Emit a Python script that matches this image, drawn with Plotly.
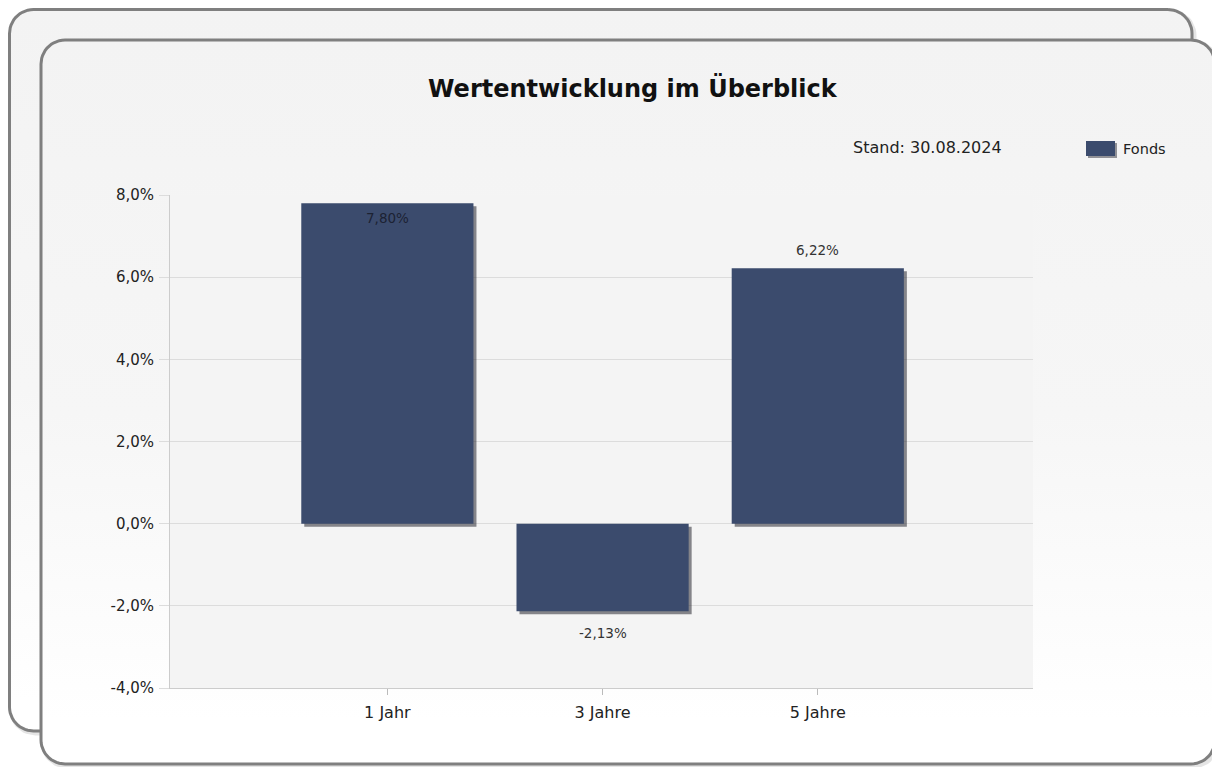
import numpy as np
import plotly.graph_objects as go

# ---------------- data ----------------
categories = ["1 Jahr", "3 Jahre", "5 Jahre"]
fonds_values = [7.80, -2.13, 6.22]
y_tick_values = [-4, -2, 0, 2, 4, 6, 8]
series_name = "Fonds"
title_text = "Wertentwicklung im Überblick"
stand_text = "Stand: 30.08.2024"

# ---------------- layout constants (screen pixels) ----------------
W, H = 1220, 767
OFF = 8  # page body margin offset
PLOT_L, PLOT_R, PLOT_T, PLOT_B = 170, 1033, 195, 688
Y_MIN, Y_MAX = -4, 8
X_MIN, X_MAX = -1.01, 3.0
BAR_COLOR = "#3b4b6d"
FONT = "DejaVu Sans"
BORDER = "#7f7f7f"


def de_num(v, dec):
    return f"{v:.{dec}f}".replace(".", ",")


def rounded_rect(x0, y0, x1, y1, r, n=14):
    pts = []
    corners = [(x1 - r, y0 + r, -90, 0), (x1 - r, y1 - r, 0, 90),
               (x0 + r, y1 - r, 90, 180), (x0 + r, y0 + r, 180, 270)]
    for cx, cy, a0, a1 in corners:
        for a in np.linspace(np.radians(a0), np.radians(a1), n):
            pts.append((cx + r * np.cos(a), cy + r * np.sin(a)))
    pts.append(pts[0])
    xs, ys = zip(*pts)
    return list(xs), list(ys)


fig = go.Figure()

# ---- background cards (pixel-space helper axes x / y) ----
bx, by = rounded_rect(9.5, 9.5, 1192, 731, 24)
fig.add_trace(go.Scatter(x=[v + 2 for v in bx], y=[v + 2 for v in by], mode="lines",
                         line=dict(color="rgba(0,0,0,0.10)", width=5),
                         hoverinfo="skip", showlegend=False, xaxis="x", yaxis="y"))
fig.add_trace(go.Scatter(x=bx, y=by, mode="lines", fill="toself",
                         fillgradient=dict(type="vertical", start=10, stop=700,
                                           colorscale=[[0, "#f3f3f3"], [0.55, "#f6f6f6"], [1, "#ffffff"]]),
                         line=dict(color=BORDER, width=3),
                         hoverinfo="skip", showlegend=False, xaxis="x", yaxis="y"))
fx, fy = rounded_rect(41, 40, 1215, 764, 24)
fig.add_trace(go.Scatter(x=[v + 2 for v in fx], y=[v + 2 for v in fy], mode="lines",
                         line=dict(color="rgba(0,0,0,0.10)", width=5),
                         hoverinfo="skip", showlegend=False, xaxis="x", yaxis="y"))
fig.add_trace(go.Scatter(x=fx, y=fy, mode="lines", fill="toself",
                         fillgradient=dict(type="vertical", start=40, stop=720,
                                           colorscale=[[0, "#f3f3f3"], [0.55, "#f6f6f6"], [1, "#ffffff"]]),
                         line=dict(color=BORDER, width=3),
                         hoverinfo="skip", showlegend=False, xaxis="x", yaxis="y"))
# plot area background
fig.add_trace(go.Scatter(x=[PLOT_L, PLOT_R, PLOT_R, PLOT_L, PLOT_L],
                         y=[PLOT_T, PLOT_T, PLOT_B, PLOT_B, PLOT_T],
                         mode="lines", fill="toself", fillcolor="#f4f4f4",
                         line=dict(width=0), hoverinfo="skip", showlegend=False,
                         xaxis="x", yaxis="y"))

# ---- bars (x2 / y2) ----
px_per_unit_y = (PLOT_B - PLOT_T) / (Y_MAX - Y_MIN)
px_per_unit_x = (PLOT_R - PLOT_L) / (X_MAX - X_MIN)
shadow_dy = 3 / px_per_unit_y
shadow_dx = 3 / px_per_unit_x

fig.add_trace(go.Bar(x=categories, y=fonds_values, base=-shadow_dy,
                     offset=-0.4 + shadow_dx, width=0.8,
                     marker=dict(color="rgba(40,40,50,0.55)", line=dict(width=0)),
                     hoverinfo="skip", showlegend=False, xaxis="x2", yaxis="y2"))
fig.add_trace(go.Bar(x=categories, y=fonds_values, name=series_name, width=0.8, offset=-0.4,
                     marker=dict(color=BAR_COLOR, line=dict(width=0)),
                     hovertemplate="%{x}: %{y:.2f}%<extra></extra>",
                     showlegend=False, xaxis="x2", yaxis="y2"))

# ---- value labels placed through the data axes ----
annotations = []
for cat, val in zip(categories, fonds_values):
    if val >= 0:
        inside = val + 1.0 > Y_MAX
        shift = -15 if inside else 18
    else:
        shift = -22
    annotations.append(dict(text=de_num(val, 2) + "%", x=cat, y=val, xref="x2", yref="y2",
                            yshift=shift, showarrow=False, xanchor="center", yanchor="middle",
                            font=dict(family=FONT, size=13.5,
                                      color="#1c2233" if (val >= 0 and val + 1.0 > Y_MAX) else "#333333")))

# ---- legend (manual) and texts ----
shapes = [
    dict(type="rect", xref="x", yref="y", x0=1088, x1=1117, y0=143, y1=158,
         fillcolor="rgba(45,45,55,0.5)", line=dict(width=0), layer="above"),
    dict(type="rect", xref="x", yref="y", x0=1086, x1=1115, y0=141, y1=156,
         fillcolor=BAR_COLOR, line=dict(width=0), layer="above"),
]
annotations += [
    dict(text=f"<b>{title_text}</b>", x=633, y=88, xref="x", yref="y", showarrow=False,
         xanchor="center", yanchor="middle", font=dict(family=FONT, size=24, color="#111111")),
    dict(text=stand_text, x=1004, y=147, xref="x", yref="y", showarrow=False,
         xanchor="right", yanchor="middle", font=dict(family=FONT, size=16, color="#222222")),
    dict(text=series_name, x=1121, y=149, xref="x", yref="y", showarrow=False,
         xanchor="left", yanchor="middle", font=dict(family=FONT, size=14.5, color="#222222")),
]

y_tick_text = [de_num(v, 1) + "%" for v in y_tick_values]

fig.update_layout(
    template="none",
    width=W, height=H, margin=dict(l=0, r=0, t=0, b=0, pad=0, autoexpand=False),
    paper_bgcolor="#ffffff", plot_bgcolor="rgba(0,0,0,0)",
    separators=",.", barmode="overlay", showlegend=False,
    font=dict(family=FONT, color="#222222"),
    xaxis=dict(domain=[0, 1], range=[OFF, W + OFF], visible=False, fixedrange=True,
               automargin=False),
    yaxis=dict(domain=[0, 1], range=[H + OFF, OFF], visible=False, fixedrange=True,
               automargin=False),
    xaxis2=dict(domain=[(PLOT_L - OFF) / W, (PLOT_R - OFF) / W], anchor="y2", type="category",
                categoryorder="array", categoryarray=categories,
                range=[X_MIN, X_MAX], showgrid=False, zeroline=False,
                showline=True, linecolor="#cccccc", linewidth=1,
                ticks="outside", ticklen=6, tickcolor="#bbbbbb",
                tickfont=dict(family=FONT, size=16, color="#222222"),
                ticklabelstandoff=4, fixedrange=True, automargin=False),
    yaxis2=dict(domain=[1 - (PLOT_B - OFF) / H, 1 - (PLOT_T - OFF) / H], anchor="x2",
                range=[Y_MIN, Y_MAX], tickvals=y_tick_values, ticktext=y_tick_text,
                showgrid=True, gridcolor="#dcdcdc", gridwidth=1,
                zeroline=True, zerolinecolor="#dcdcdc", zerolinewidth=1,
                showline=True, linecolor="#cccccc", linewidth=1,
                ticks="outside", ticklen=10, tickcolor="#dcdcdc",
                tickfont=dict(family=FONT, size=15, color="#222222"),
                ticklabelstandoff=2, fixedrange=True, automargin=False),
    shapes=shapes, annotations=annotations,
)

fig.write_html("out.html")
